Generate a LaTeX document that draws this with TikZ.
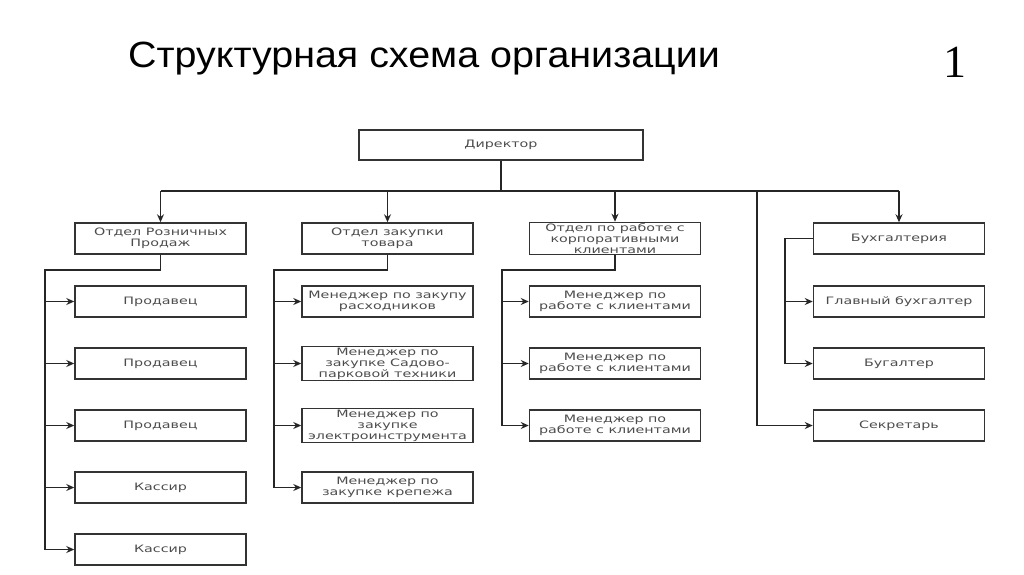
\documentclass[tikz,border=0pt]{standalone}
\usepackage{fontspec}
\setmainfont{Liberation Sans}
\newfontfamily\titlefont[FakeStretch=1.08]{Liberation Sans}
\newfontfamily\boxfont[FakeStretch=1.4]{DejaVu Sans}
\newfontfamily\numfont{Liberation Serif}
\usetikzlibrary{arrows.meta,positioning}
\tikzset{
  unit/.style={draw=black!80, line width=1.5pt, minimum width=171pt, minimum height=31pt,
    inner sep=1pt, align=center, text=black!70, font=\boxfont\fontsize{10.2}{11}\selectfont},
  link/.style={draw=black!85, line width=1.5pt},
  arr/.style={link, -{Stealth[length=8pt,width=7pt]}}
}
\begin{document}
\begin{tikzpicture}[x=1pt,y=-1pt]
    \useasboundingbox (0,0) rectangle (1024,574);
    \node[anchor=base west, inner sep=0pt, font=\titlefont\fontsize{36.5}{40}\selectfont] (title) at (128,67) {Структурная схема организации};
    \node[font=\numfont\fontsize{46}{46}\selectfont] (num) at (955,62) {1};

    % top levels
    \node[unit, minimum width=284pt, minimum height=30pt] (dir) at (501,145) {Директор};
    \node[unit] (retail) at (160.5,238.5) {Отдел Розничных\\Продаж};
    \node[unit] (buy) at (387.5,238.5) {Отдел закупки\\товара};
    \node[unit] (corp) at (615,238.5) {Отдел по работе с\\корпоративными\\клиентами};
    \node[unit] (acc) at (899,238.5) {Бухгалтерия};

    % staff
    \foreach \txt [count=\i] in {Продавец, Продавец, Продавец, Кассир, Кассир}
        \node[unit] (retail\i) at (160.5,239.5+62*\i) {\txt};
    \foreach \txt [count=\i] in {{Менеджер по закупу\\расходников}, {Менеджер по\\закупке Садово-\\парковой техники},
        {Менеджер по\\закупке\\электроинструмента}, {Менеджер по\\закупке крепежа}}
        \node[unit] (buy\i) at (387.5,239.5+62*\i) {\txt};
    \foreach \i in {1,2,3}
        \node[unit] (corp\i) at (615,239.5+62*\i) {Менеджер по\\работе с клиентами};
    \node[unit] (acc1) at (899,301.5) {Главный бухгалтер};
    \node[unit] (acc2) at (899,363.5) {Бугалтер};
    \node[unit] (secr) at (899,425.5) {Секретарь};

    % connectors
    \coordinate (hub) at (501,191);
    \coordinate (sbus) at (757,191);
    \draw[link] (dir.south) -- (hub);
    \draw[link] (retail.north |- hub) -- (acc.north |- hub);
    \foreach \d in {retail,buy,corp,acc}
        \draw[arr] (\d.north |- hub) -- (\d.north);
    \draw[arr] (sbus) |- (secr.west);

    \coordinate (rbus) at (45,270);
    \coordinate (bbus) at (274,270);
    \coordinate (cbus) at (502,270);
    \coordinate (abus) at (785,238.5);
    \draw[link] (retail.south) |- (rbus) -- (rbus |- retail5);
    \draw[link] (buy.south) |- (bbus) -- (bbus |- buy4);
    \draw[link] (corp.south) |- (cbus) -- (cbus |- corp3);
    \draw[link] (acc.west) -- (abus) -- (abus |- acc2);
    \foreach \i in {1,...,5}
        \draw[arr] (rbus |- retail\i) -- (retail\i.west);
    \foreach \i in {1,...,4}
        \draw[arr] (bbus |- buy\i) -- (buy\i.west);
    \foreach \i in {1,2,3}
        \draw[arr] (cbus |- corp\i) -- (corp\i.west);
    \foreach \i in {1,2}
        \draw[arr] (abus |- acc\i) -- (acc\i.west);
\end{tikzpicture}
\end{document}
